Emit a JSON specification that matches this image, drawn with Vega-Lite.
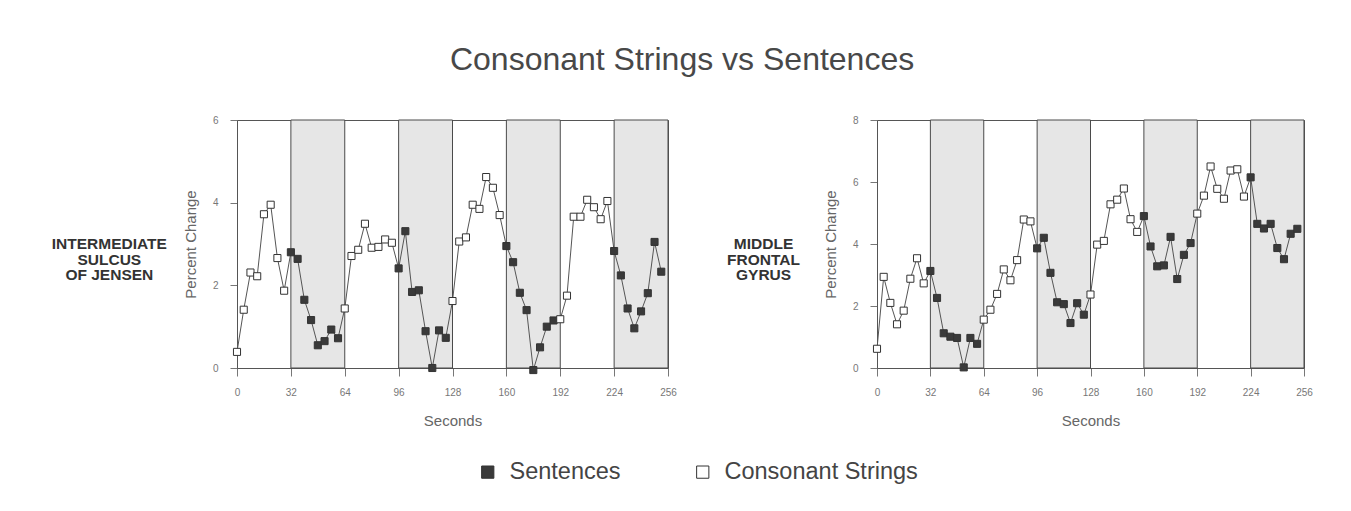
{
  "$schema": "https://vega.github.io/schema/vega-lite/v6.json",
  "background": "white",
  "padding": {"left": 51, "top": 43, "right": 5, "bottom": 5},
  "title": {"text": "Consonant Strings vs Sentences", "fontSize": 32, "font": "Liberation Sans", "fontWeight": "normal", "color": "#484848", "anchor": "middle", "offset": 38},
  "datasets": {
    "bands": [{"start": 32, "end": 64}, {"start": 96, "end": 128}, {"start": 160, "end": 192}, {"start": 224, "end": 256}],
    "series": [
      {"region": "L", "t": 0, "pct": 0.39, "cond": "Consonant Strings"},
      {"region": "L", "t": 4, "pct": 1.41, "cond": "Consonant Strings"},
      {"region": "L", "t": 8, "pct": 2.31, "cond": "Consonant Strings"},
      {"region": "L", "t": 12, "pct": 2.22, "cond": "Consonant Strings"},
      {"region": "L", "t": 16, "pct": 3.72, "cond": "Consonant Strings"},
      {"region": "L", "t": 20, "pct": 3.95, "cond": "Consonant Strings"},
      {"region": "L", "t": 24, "pct": 2.66, "cond": "Consonant Strings"},
      {"region": "L", "t": 28, "pct": 1.87, "cond": "Consonant Strings"},
      {"region": "L", "t": 32, "pct": 2.8, "cond": "Sentences"},
      {"region": "L", "t": 36, "pct": 2.64, "cond": "Sentences"},
      {"region": "L", "t": 40, "pct": 1.65, "cond": "Sentences"},
      {"region": "L", "t": 44, "pct": 1.16, "cond": "Sentences"},
      {"region": "L", "t": 48, "pct": 0.55, "cond": "Sentences"},
      {"region": "L", "t": 52, "pct": 0.65, "cond": "Sentences"},
      {"region": "L", "t": 56, "pct": 0.93, "cond": "Sentences"},
      {"region": "L", "t": 60, "pct": 0.72, "cond": "Sentences"},
      {"region": "L", "t": 64, "pct": 1.44, "cond": "Consonant Strings"},
      {"region": "L", "t": 68, "pct": 2.71, "cond": "Consonant Strings"},
      {"region": "L", "t": 72, "pct": 2.86, "cond": "Consonant Strings"},
      {"region": "L", "t": 76, "pct": 3.49, "cond": "Consonant Strings"},
      {"region": "L", "t": 80, "pct": 2.91, "cond": "Consonant Strings"},
      {"region": "L", "t": 84, "pct": 2.93, "cond": "Consonant Strings"},
      {"region": "L", "t": 88, "pct": 3.11, "cond": "Consonant Strings"},
      {"region": "L", "t": 92, "pct": 3.03, "cond": "Consonant Strings"},
      {"region": "L", "t": 96, "pct": 2.41, "cond": "Sentences"},
      {"region": "L", "t": 100, "pct": 3.31, "cond": "Sentences"},
      {"region": "L", "t": 104, "pct": 1.84, "cond": "Sentences"},
      {"region": "L", "t": 108, "pct": 1.88, "cond": "Sentences"},
      {"region": "L", "t": 112, "pct": 0.89, "cond": "Sentences"},
      {"region": "L", "t": 116, "pct": 0.0, "cond": "Sentences"},
      {"region": "L", "t": 120, "pct": 0.91, "cond": "Sentences"},
      {"region": "L", "t": 124, "pct": 0.73, "cond": "Sentences"},
      {"region": "L", "t": 128, "pct": 1.62, "cond": "Consonant Strings"},
      {"region": "L", "t": 132, "pct": 3.06, "cond": "Consonant Strings"},
      {"region": "L", "t": 136, "pct": 3.16, "cond": "Consonant Strings"},
      {"region": "L", "t": 140, "pct": 3.95, "cond": "Consonant Strings"},
      {"region": "L", "t": 144, "pct": 3.85, "cond": "Consonant Strings"},
      {"region": "L", "t": 148, "pct": 4.62, "cond": "Consonant Strings"},
      {"region": "L", "t": 152, "pct": 4.36, "cond": "Consonant Strings"},
      {"region": "L", "t": 156, "pct": 3.7, "cond": "Consonant Strings"},
      {"region": "L", "t": 160, "pct": 2.95, "cond": "Sentences"},
      {"region": "L", "t": 164, "pct": 2.56, "cond": "Sentences"},
      {"region": "L", "t": 168, "pct": 1.82, "cond": "Sentences"},
      {"region": "L", "t": 172, "pct": 1.4, "cond": "Sentences"},
      {"region": "L", "t": 176, "pct": -0.05, "cond": "Sentences"},
      {"region": "L", "t": 180, "pct": 0.5, "cond": "Sentences"},
      {"region": "L", "t": 184, "pct": 1.0, "cond": "Sentences"},
      {"region": "L", "t": 188, "pct": 1.15, "cond": "Sentences"},
      {"region": "L", "t": 192, "pct": 1.18, "cond": "Consonant Strings"},
      {"region": "L", "t": 196, "pct": 1.75, "cond": "Consonant Strings"},
      {"region": "L", "t": 200, "pct": 3.66, "cond": "Consonant Strings"},
      {"region": "L", "t": 204, "pct": 3.66, "cond": "Consonant Strings"},
      {"region": "L", "t": 208, "pct": 4.07, "cond": "Consonant Strings"},
      {"region": "L", "t": 212, "pct": 3.89, "cond": "Consonant Strings"},
      {"region": "L", "t": 216, "pct": 3.6, "cond": "Consonant Strings"},
      {"region": "L", "t": 220, "pct": 4.04, "cond": "Consonant Strings"},
      {"region": "L", "t": 224, "pct": 2.83, "cond": "Sentences"},
      {"region": "L", "t": 228, "pct": 2.24, "cond": "Sentences"},
      {"region": "L", "t": 232, "pct": 1.44, "cond": "Sentences"},
      {"region": "L", "t": 236, "pct": 0.96, "cond": "Sentences"},
      {"region": "L", "t": 240, "pct": 1.37, "cond": "Sentences"},
      {"region": "L", "t": 244, "pct": 1.81, "cond": "Sentences"},
      {"region": "L", "t": 248, "pct": 3.05, "cond": "Sentences"},
      {"region": "L", "t": 252, "pct": 2.33, "cond": "Sentences"},
      {"region": "R", "t": 0, "pct": 0.62, "cond": "Consonant Strings"},
      {"region": "R", "t": 4, "pct": 2.94, "cond": "Consonant Strings"},
      {"region": "R", "t": 8, "pct": 2.1, "cond": "Consonant Strings"},
      {"region": "R", "t": 12, "pct": 1.41, "cond": "Consonant Strings"},
      {"region": "R", "t": 16, "pct": 1.85, "cond": "Consonant Strings"},
      {"region": "R", "t": 20, "pct": 2.88, "cond": "Consonant Strings"},
      {"region": "R", "t": 24, "pct": 3.54, "cond": "Consonant Strings"},
      {"region": "R", "t": 28, "pct": 2.73, "cond": "Consonant Strings"},
      {"region": "R", "t": 32, "pct": 3.13, "cond": "Sentences"},
      {"region": "R", "t": 36, "pct": 2.26, "cond": "Sentences"},
      {"region": "R", "t": 40, "pct": 1.12, "cond": "Sentences"},
      {"region": "R", "t": 44, "pct": 1.01, "cond": "Sentences"},
      {"region": "R", "t": 48, "pct": 0.97, "cond": "Sentences"},
      {"region": "R", "t": 52, "pct": 0.02, "cond": "Sentences"},
      {"region": "R", "t": 56, "pct": 0.97, "cond": "Sentences"},
      {"region": "R", "t": 60, "pct": 0.78, "cond": "Sentences"},
      {"region": "R", "t": 64, "pct": 1.56, "cond": "Consonant Strings"},
      {"region": "R", "t": 68, "pct": 1.88, "cond": "Consonant Strings"},
      {"region": "R", "t": 72, "pct": 2.39, "cond": "Consonant Strings"},
      {"region": "R", "t": 76, "pct": 3.18, "cond": "Consonant Strings"},
      {"region": "R", "t": 80, "pct": 2.83, "cond": "Consonant Strings"},
      {"region": "R", "t": 84, "pct": 3.48, "cond": "Consonant Strings"},
      {"region": "R", "t": 88, "pct": 4.79, "cond": "Consonant Strings"},
      {"region": "R", "t": 92, "pct": 4.73, "cond": "Consonant Strings"},
      {"region": "R", "t": 96, "pct": 3.86, "cond": "Sentences"},
      {"region": "R", "t": 100, "pct": 4.2, "cond": "Sentences"},
      {"region": "R", "t": 104, "pct": 3.07, "cond": "Sentences"},
      {"region": "R", "t": 108, "pct": 2.12, "cond": "Sentences"},
      {"region": "R", "t": 112, "pct": 2.06, "cond": "Sentences"},
      {"region": "R", "t": 116, "pct": 1.45, "cond": "Sentences"},
      {"region": "R", "t": 120, "pct": 2.09, "cond": "Sentences"},
      {"region": "R", "t": 124, "pct": 1.72, "cond": "Sentences"},
      {"region": "R", "t": 128, "pct": 2.37, "cond": "Consonant Strings"},
      {"region": "R", "t": 132, "pct": 3.98, "cond": "Consonant Strings"},
      {"region": "R", "t": 136, "pct": 4.1, "cond": "Consonant Strings"},
      {"region": "R", "t": 140, "pct": 5.28, "cond": "Consonant Strings"},
      {"region": "R", "t": 144, "pct": 5.43, "cond": "Consonant Strings"},
      {"region": "R", "t": 148, "pct": 5.79, "cond": "Consonant Strings"},
      {"region": "R", "t": 152, "pct": 4.8, "cond": "Consonant Strings"},
      {"region": "R", "t": 156, "pct": 4.39, "cond": "Consonant Strings"},
      {"region": "R", "t": 160, "pct": 4.9, "cond": "Sentences"},
      {"region": "R", "t": 164, "pct": 3.92, "cond": "Sentences"},
      {"region": "R", "t": 168, "pct": 3.28, "cond": "Sentences"},
      {"region": "R", "t": 172, "pct": 3.31, "cond": "Sentences"},
      {"region": "R", "t": 176, "pct": 4.23, "cond": "Sentences"},
      {"region": "R", "t": 180, "pct": 2.87, "cond": "Sentences"},
      {"region": "R", "t": 184, "pct": 3.65, "cond": "Sentences"},
      {"region": "R", "t": 188, "pct": 4.03, "cond": "Sentences"},
      {"region": "R", "t": 192, "pct": 4.98, "cond": "Consonant Strings"},
      {"region": "R", "t": 196, "pct": 5.56, "cond": "Consonant Strings"},
      {"region": "R", "t": 200, "pct": 6.5, "cond": "Consonant Strings"},
      {"region": "R", "t": 204, "pct": 5.78, "cond": "Consonant Strings"},
      {"region": "R", "t": 208, "pct": 5.46, "cond": "Consonant Strings"},
      {"region": "R", "t": 212, "pct": 6.37, "cond": "Consonant Strings"},
      {"region": "R", "t": 216, "pct": 6.41, "cond": "Consonant Strings"},
      {"region": "R", "t": 220, "pct": 5.53, "cond": "Consonant Strings"},
      {"region": "R", "t": 224, "pct": 6.15, "cond": "Sentences"},
      {"region": "R", "t": 228, "pct": 4.65, "cond": "Sentences"},
      {"region": "R", "t": 232, "pct": 4.5, "cond": "Sentences"},
      {"region": "R", "t": 236, "pct": 4.65, "cond": "Sentences"},
      {"region": "R", "t": 240, "pct": 3.87, "cond": "Sentences"},
      {"region": "R", "t": 244, "pct": 3.51, "cond": "Sentences"},
      {"region": "R", "t": 248, "pct": 4.33, "cond": "Sentences"},
      {"region": "R", "t": 252, "pct": 4.49, "cond": "Sentences"}
    ]
  },
  "spacing": 49,
  "hconcat": [
    {
      "width": 431,
      "height": 248,
      "title": {"text": ["INTERMEDIATE", "SULCUS", "OF JENSEN"], "orient": "left", "angle": 0, "anchor": "middle", "align": "center", "baseline": "middle", "fontSize": 15.5, "fontWeight": "bold", "font": "Liberation Sans", "color": "#333", "lineHeight": 15.5, "offset": -41},
      "layer": [
        {
          "data": {"name": "bands"},
          "mark": {"type": "rect", "fill": "#e6e6e6", "stroke": "#4a4a4a", "strokeWidth": 1},
          "encoding": {
            "x": {"field": "start", "type": "quantitative", "scale": {"domain": [0, 256], "nice": false}, "axis": {"values": [0, 32, 64, 96, 128, 160, 192, 224, 256], "title": "Seconds"}},
            "x2": {"field": "end"}
          }
        },
        {
          "data": {"name": "series"},
          "transform": [{"filter": "datum.region === 'L'"}],
          "mark": {"type": "line", "color": "#555", "strokeWidth": 1},
          "encoding": {
            "x": {"field": "t", "type": "quantitative", "title": "Seconds"},
            "y": {"field": "pct", "type": "quantitative", "scale": {"domain": [0, 6], "nice": false}, "axis": {"values": [0, 2, 4, 6], "title": "Percent Change"}}
          }
        },
        {
          "data": {"name": "series"},
          "transform": [{"filter": "datum.region === 'L'"}],
          "mark": {"type": "point", "shape": "square", "filled": true, "size": 50, "stroke": "#333", "strokeWidth": 1, "opacity": 1},
          "encoding": {
            "x": {"field": "t", "type": "quantitative", "title": "Seconds"},
            "y": {"field": "pct", "type": "quantitative", "title": "Percent Change"},
            "fill": {"field": "cond", "type": "nominal", "scale": {"domain": ["Sentences", "Consonant Strings"], "range": ["#3a3a3a", "#ffffff"]}, "legend": {"orient": "none", "legendX": 239, "legendY": 340, "direction": "horizontal", "title": null, "symbolType": "square", "symbolSize": 150, "symbolStrokeColor": "#333", "symbolStrokeWidth": 1, "labelFontSize": 23.5, "labelFont": "Liberation Sans", "labelColor": "#444", "labelOffset": 10, "labelLimit": 400, "columnPadding": 70, "padding": 0}}
          }
        }
      ]
    },
    {
      "width": 427,
      "height": 248,
      "title": {"text": ["MIDDLE", "FRONTAL", "GYRUS"], "orient": "left", "angle": 0, "anchor": "middle", "align": "center", "baseline": "middle", "fontSize": 15.5, "fontWeight": "bold", "font": "Liberation Sans", "color": "#333", "lineHeight": 15.5, "offset": -13},
      "layer": [
        {
          "data": {"name": "bands"},
          "mark": {"type": "rect", "fill": "#e6e6e6", "stroke": "#4a4a4a", "strokeWidth": 1},
          "encoding": {
            "x": {"field": "start", "type": "quantitative", "scale": {"domain": [0, 256], "nice": false}, "axis": {"values": [0, 32, 64, 96, 128, 160, 192, 224, 256], "title": "Seconds"}},
            "x2": {"field": "end"}
          }
        },
        {
          "data": {"name": "series"},
          "transform": [{"filter": "datum.region === 'R'"}],
          "mark": {"type": "line", "color": "#555", "strokeWidth": 1},
          "encoding": {
            "x": {"field": "t", "type": "quantitative", "title": "Seconds"},
            "y": {"field": "pct", "type": "quantitative", "scale": {"domain": [0, 8], "nice": false}, "axis": {"values": [0, 2, 4, 6, 8], "title": "Percent Change"}}
          }
        },
        {
          "data": {"name": "series"},
          "transform": [{"filter": "datum.region === 'R'"}],
          "mark": {"type": "point", "shape": "square", "filled": true, "size": 50, "stroke": "#333", "strokeWidth": 1, "opacity": 1},
          "encoding": {
            "x": {"field": "t", "type": "quantitative", "title": "Seconds"},
            "y": {"field": "pct", "type": "quantitative", "title": "Percent Change"},
            "fill": {"field": "cond", "type": "nominal", "scale": {"domain": ["Sentences", "Consonant Strings"], "range": ["#3a3a3a", "#ffffff"]}}
          }
        }
      ]
    }
  ],
  "config": {
    "view": {"stroke": "#555", "strokeWidth": 1},
    "axis": {"grid": false, "domainColor": "#555", "tickColor": "#777", "labelColor": "#777", "labelFont": "Liberation Sans", "labelFontSize": 10, "titleFont": "Liberation Sans", "titleFontSize": 15, "titleFontWeight": "normal", "titleColor": "#666", "labelFlush": false},
    "axisX": {"tickSize": 8, "labelPadding": 11, "titlePadding": 16},
    "axisY": {"tickSize": 7, "labelPadding": 12, "titlePadding": 14}
  }
}
